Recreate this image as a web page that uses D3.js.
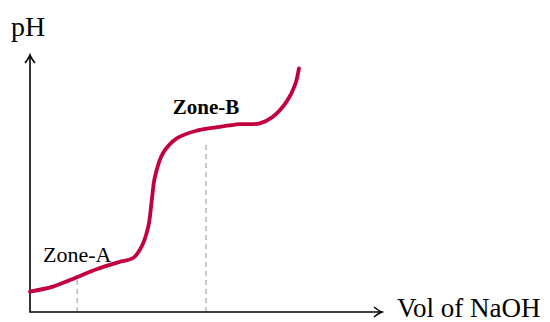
<!DOCTYPE html>
<html>
<head>
<meta charset="utf-8">
<script src="https://cdn.jsdelivr.net/npm/d3@7"></script>
<style>
  body { margin: 0; background: #fff; }
  text { font-family: "Liberation Serif", "Times New Roman", serif; }
</style>
</head>
<body>
<svg id="drawing_region"></svg>
<script>
// titration curve (volume, pH)
const vol = [0, 0.65, 1.33, 1.89, 2.56, 2.93, 3.17, 3.36, 3.46, 3.55, 3.78, 4.17, 4.74, 5.40, 5.97, 6.53, 6.90, 7.29, 7.53, 7.64];
const ph  = [1.11, 1.38, 1.89, 2.33, 2.74, 2.94, 3.56, 4.65, 6.10, 7.37, 8.66, 9.46, 9.88, 10.09, 10.23, 10.28, 10.64, 11.46, 12.37, 13.27];

// zone markers
const zoneNames = ["Zone-A", "Zone-B"];
const zoneVol = [1.34, 5.0];
const zoneTop = [2.0, 9.1];
const zoneLabelPh = [2.7, 10.8];

const config = {
    parent: '#drawing_region',
    width: 550,
    height: 322,
    margin: {top: 55, right: 168, bottom: 10, left: 30},
};

const svg = d3.select(config.parent)
    .attr('width', config.width)
    .attr('height', config.height);

const inner_width = config.width - config.margin.left - config.margin.right;
const inner_height = config.height - config.margin.top - config.margin.bottom;

const xscale = d3.scaleLinear()
    .domain([0, 10])
    .range([config.margin.left, config.margin.left + inner_width]);

const yscale = d3.scaleLinear()
    .domain([0, 14])
    .range([config.margin.top + inner_height, config.margin.top]);

const x0 = xscale(0), y0 = yscale(0);
const xEnd = xscale(10), yEnd = yscale(14);

// dashed zone lines
svg.append('g').selectAll('line')
    .data(zoneVol)
    .join('line')
    .attr('x1', d => xscale(d))
    .attr('x2', d => xscale(d))
    .attr('y1', y0)
    .attr('y2', (d, i) => yscale(zoneTop[i]))
    .attr('stroke', '#aaaaaa')
    .attr('stroke-width', 1.2)
    .attr('stroke-dasharray', '5,4');

// axes
const axes = svg.append('g')
    .attr('fill', 'none')
    .attr('stroke', 'black')
    .attr('stroke-width', 1.6);

axes.append('path').attr('d', `M${x0},${y0}V${yEnd}`);
axes.append('path').attr('d', `M${x0 - 0.8},${y0}H${xEnd}`);
// open arrow heads
axes.append('path')
    .attr('d', `M${x0 - 5},${yEnd + 8}Q${x0 - 1},${yEnd + 3} ${x0},${yEnd}Q${x0 + 1},${yEnd + 3} ${x0 + 5},${yEnd + 8}`);
axes.append('path')
    .attr('d', `M${xEnd - 8},${y0 - 5}Q${xEnd - 3},${y0 - 1} ${xEnd},${y0}Q${xEnd - 3},${y0 + 1} ${xEnd - 8},${y0 + 5}`);

// curve
const line = d3.line()
    .x(d => xscale(d[0]))
    .y(d => yscale(d[1]))
    .curve(d3.curveCatmullRom.alpha(0.5));

svg.append('path')
    .datum(d3.zip(vol, ph))
    .attr('d', line)
    .attr('fill', 'none')
    .attr('stroke', '#c3003d')
    .attr('stroke-width', 3.8)
    .attr('stroke-linecap', 'round');

// zone labels
svg.append('g').selectAll('text')
    .data(zoneNames)
    .join('text')
    .attr('x', (d, i) => xscale(zoneVol[i]))
    .attr('y', (d, i) => yscale(zoneLabelPh[i]))
    .attr('text-anchor', 'middle')
    .style('font-size', (d, i) => i === 1 ? '21px' : '22px')
    .style('font-weight', (d, i) => i === 1 ? 'bold' : 'normal')
    .text(d => d);

// axis titles
svg.append('text')
    .attr('x', 11)
    .attr('y', 36)
    .style('font-size', '28px')
    .text('pH');

svg.append('text')
    .attr('x', xEnd + 15)
    .attr('y', y0 + 5)
    .style('font-size', '27px')
    .text('Vol of NaOH');
</script>
</body>
</html>
